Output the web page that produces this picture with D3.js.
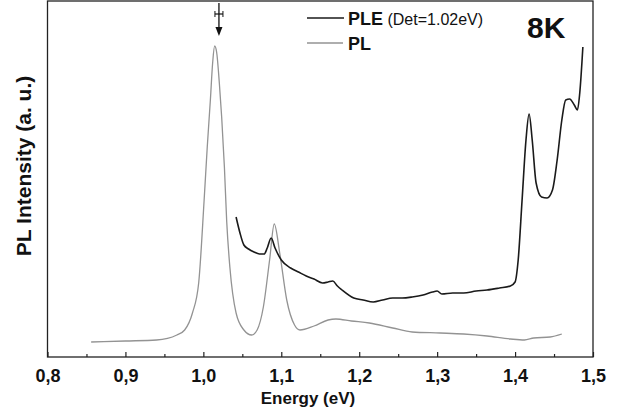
<!DOCTYPE html>
<html>
<head>
<meta charset="utf-8">
<script src="https://cdn.jsdelivr.net/npm/d3@7/dist/d3.min.js"></script>
<style>
  body { margin: 0; background: #fff; }
  text { font-family: "Liberation Sans", Arial, sans-serif; }
</style>
</head>
<body>
<svg id="chart" width="617" height="413"></svg>
<script>
// PL spectrum (grey), energy in eV / intensity in a.u.
var plEnergy = [0.856, 0.90, 0.94, 0.966, 0.976, 0.986, 0.994, 1.001, 1.005, 1.009, 1.012, 1.0145, 1.017, 1.0205, 1.0235, 1.027, 1.030, 1.034, 1.042, 1.052, 1.062, 1.069, 1.077, 1.085, 1.091, 1.098, 1.107, 1.117, 1.124, 1.142, 1.160, 1.170, 1.190, 1.213, 1.243, 1.268, 1.304, 1.334, 1.364, 1.394, 1.412, 1.424, 1.445, 1.460];
var plIntensity = [15, 16, 17, 22, 27, 44, 74, 157, 210, 257, 295, 311, 305, 274, 240, 190, 135, 90, 44, 27, 22, 27, 50, 97, 133, 104, 57, 32, 27, 31, 37, 38, 36, 34, 29, 25, 24, 23, 21, 18, 17, 19, 20, 23];

// PLE spectrum (black), detection at 1.02 eV
var pleEnergy = [1.042, 1.047, 1.052, 1.058, 1.065, 1.072, 1.078, 1.082, 1.087, 1.092, 1.100, 1.112, 1.122, 1.132, 1.142, 1.153, 1.160, 1.166, 1.172, 1.178, 1.193, 1.205, 1.218, 1.230, 1.243, 1.255, 1.268, 1.282, 1.294, 1.300, 1.306, 1.320, 1.334, 1.350, 1.364, 1.380, 1.394, 1.400, 1.404, 1.409, 1.414, 1.418, 1.422, 1.427, 1.434, 1.441, 1.448, 1.454, 1.460, 1.465, 1.470, 1.476, 1.480, 1.483, 1.487];
var pleIntensity = [140, 124, 112, 108, 105, 103, 103, 109, 119, 109, 97, 89, 85, 81, 78, 74, 75, 76, 71, 67, 59, 57, 55, 57, 59, 59, 60, 62, 65, 66, 63, 64, 64, 66, 67, 69, 71, 75, 97, 157, 217, 243, 217, 174, 160, 159, 167, 197, 237, 257, 258, 252, 247, 264, 310];

var xTicks = [0.8, 0.9, 1.0, 1.1, 1.2, 1.3, 1.4, 1.5];
var xMinorTicks = [0.85, 0.95, 1.05, 1.15, 1.25, 1.35, 1.45];

var svg = d3.select("#chart");
var margin = {left: 47.5, right: 24, top: 1, bottom: 56};
var width = 617 - margin.left - margin.right,
    height = 413 - margin.top - margin.bottom;

var x = d3.scaleLinear().domain([0.8, 1.5]).range([0, width]);
var y = d3.scaleLinear().domain([0, 356]).range([height, 0]);

var g = svg.append("g").attr("transform", "translate(" + margin.left + "," + margin.top + ")");

// frame
g.append("rect")
  .attr("width", width).attr("height", height)
  .attr("fill", "none").attr("stroke", "#222").attr("stroke-width", 1.3);

// bottom axis, ticks pointing inward
var xAxis = g.append("g").attr("transform", "translate(0," + height + ")")
  .call(d3.axisBottom(x).tickValues(xTicks).tickSizeInner(-5).tickSizeOuter(0)
    .tickFormat(function(d) { return d3.format(".1f")(d).replace(".", ","); }));
xAxis.select(".domain").remove();
xAxis.selectAll("line").attr("stroke", "#222").attr("stroke-width", 1.2);
xAxis.selectAll("text")
  .attr("y", 25).attr("dy", "0")
  .attr("fill", "#111").style("font-size", "18px").style("font-weight", "bold")
  .style("font-family", "Liberation Sans, Arial, sans-serif");

var xMinor = g.append("g").attr("transform", "translate(0," + height + ")")
  .call(d3.axisBottom(x).tickValues(xMinorTicks).tickSizeInner(-3).tickSizeOuter(0).tickFormat(""));
xMinor.select(".domain").remove();
xMinor.selectAll("line").attr("stroke", "#222").attr("stroke-width", 1.2);

// curves
var line = d3.line()
  .x(function(d) { return x(d[0]); })
  .y(function(d) { return y(d[1]); })
  .curve(d3.curveMonotoneX);

var plData = d3.zip(plEnergy, plIntensity);
var pleData = d3.zip(pleEnergy, pleIntensity);

g.append("path").datum(plData)
  .attr("d", line).attr("fill", "none")
  .attr("stroke", "#939393").attr("stroke-width", 1.3);

g.append("path").datum(pleData)
  .attr("d", line).attr("fill", "none")
  .attr("stroke", "#1a1a1a").attr("stroke-width", 1.6);

// detection arrow at 1.02 eV
var ax = x(1.02);
g.append("line").attr("x1", ax).attr("x2", ax).attr("y1", 2).attr("y2", 27)
  .attr("stroke", "#111").attr("stroke-width", 1.3);
g.append("path")
  .attr("d", "M" + (ax - 3.5) + ",26 L" + (ax + 3.5) + ",26 L" + ax + ",35 Z")
  .attr("fill", "#111");
g.append("line").attr("x1", ax - 4).attr("x2", ax + 4).attr("y1", 13).attr("y2", 13)
  .attr("stroke", "#111").attr("stroke-width", 1.2);
g.append("line").attr("x1", ax - 4).attr("x2", ax - 4).attr("y1", 10).attr("y2", 16)
  .attr("stroke", "#111").attr("stroke-width", 1);
g.append("line").attr("x1", ax + 4).attr("x2", ax + 4).attr("y1", 10).attr("y2", 16)
  .attr("stroke", "#111").attr("stroke-width", 1);

// legend
var legend = svg.append("g");
legend.append("line").attr("x1", 307).attr("x2", 344).attr("y1", 18).attr("y2", 18)
  .attr("stroke", "#1a1a1a").attr("stroke-width", 1.6);
legend.append("line").attr("x1", 307).attr("x2", 343).attr("y1", 43).attr("y2", 43)
  .attr("stroke", "#939393").attr("stroke-width", 1.6);
var pleLabel = legend.append("text").attr("x", 348).attr("y", 25).attr("fill", "#111");
pleLabel.append("tspan").text("PLE").style("font-size", "18px").style("font-weight", "bold");
pleLabel.append("tspan").text(" (Det=1.02eV)").style("font-size", "16px");
legend.append("text").attr("x", 348).attr("y", 50).attr("fill", "#111")
  .style("font-size", "18px").style("font-weight", "bold").text("PL");

svg.append("text").attr("x", 527).attr("y", 38).attr("fill", "#111")
  .style("font-size", "30px").style("font-weight", "bold").text("8K");

// axis titles
svg.append("text").attr("x", 308).attr("y", 404).attr("text-anchor", "middle")
  .attr("fill", "#111").style("font-size", "17px").style("font-weight", "bold")
  .text("Energy (eV)");
svg.append("text")
  .attr("transform", "translate(31,166) rotate(-90)")
  .attr("text-anchor", "middle").attr("fill", "#111")
  .style("font-size", "21px").style("font-weight", "bold")
  .text("PL Intensity (a. u.)");
</script>
</body>
</html>
